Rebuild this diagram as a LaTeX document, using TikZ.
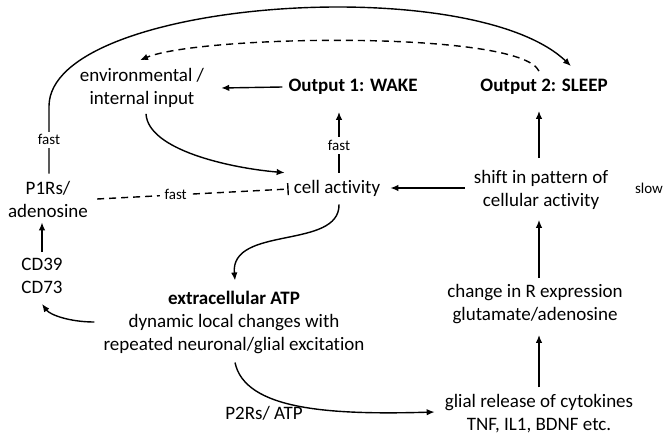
\documentclass[tikz,border=0pt]{standalone}
\usepackage{fontspec}
\setmainfont{Carlito}[Ligatures=NoCommon]
\usetikzlibrary{arrows.meta}
\begin{document}
\begin{tikzpicture}[x=1pt,y=-1pt,
 txt/.style={font=\fontsize{19}{23}\selectfont, align=center, inner sep=0pt},
 btxt/.style={font=\fontsize{19}{23}\selectfont\bfseries, align=center, inner sep=0pt},
 small/.style={font=\fontsize{15}{18}\selectfont, inner sep=1.5pt, fill=white},
 arr/.style={line width=1.4pt, -{Latex[length=8pt,width=6.5pt]}},
 ln/.style={line width=1.4pt},
 dsh/.style={dash pattern=on 7pt off 5pt},
]
\useasboundingbox (0,0) rectangle (663,442);

\node[txt] (env) at (142,88) {environmental /\\internal input};
\node[btxt] (wake) at (353,87) {Output 1: WAKE};
\node[btxt] (sleep) at (544,87) {Output 2: SLEEP};
\node[txt] (cell) at (337,188) {cell activity};
\node[txt] (p1r) at (48,199) {P1Rs/\\adenosine};
\node[txt] (cd) at (42,276) {CD39\\CD73};
\node[txt] (atp) at (234,322) {\textbf{extracellular ATP}\\dynamic local changes with\\repeated neuronal/glial excitation};
\node[txt] (shift) at (541,190) {shift in pattern of\\cellular activity};
\node[txt] (chg) at (535,304) {change in R expression\\glutamate/adenosine};
\node[txt] (glial) at (539,414) {glial release of cytokines\\TNF, IL1, BDNF etc.};
\node[txt] (p2r) at (264,413) {P2Rs/ ATP};
\node[small,fill=none] (slow) at (649,188) {slow};

% wake -> env
\draw[arr] ([shift={(-6,0)}]wake.west) -- ([shift={(17,0)}]env.east);
% cell -> wake (fast)
\draw[arr] ([shift={(2,-7)}]cell.north) -- node[small,pos=0.45,inner ysep=3pt]{fast} ([shift={(-14,17)}]wake.south);
% p1r -> sleep (fast, top arc)
\coordinate (bend) at (49,106);
\draw[arr] ([shift={(1,-7)}]p1r.north) -- node[small,inner ysep=3pt]{fast} (bend)
  .. controls (50,0) and (470,-30) .. ([shift={(27,-13)}]sleep.north);
% sleep -> env dashed
\draw[arr,dsh] ([shift={(-5,-8)}]sleep.north) .. controls (520,30) and (200,35) .. ([shift={(-2,-8)}]env.north);
% env -> cell
\draw[arr] ([shift={(4,6)}]env.south) .. controls (148,150) and (230,168) .. ([shift={(-9,-7)}]cell.north west);
% p1r -| cell dashed
\draw[ln,dsh,-{Bar[width=12pt]}] ([shift={(9,0)}]p1r.east) -- node[small,pos=0.41,inner xsep=5pt]{fast} ([shift={(-5,1)}]cell.west);
% shift -> cell
\draw[arr] ([shift={(-9,-2)}]shift.west) -- ([shift={(10,0)}]cell.east);
% shift -> sleep
\draw[arr] ([shift={(-2,-12)}]shift.north) -- ([shift={(-5,16)}]sleep.south);
% chg -> shift
\draw[arr] ([shift={(4,-6)}]chg.north) -- ([shift={(-2,10)}]shift.south);
% glial -> chg
\draw[arr] ([shift={(0,-7)}]glial.north) -- ([shift={(4,11)}]chg.south);
% cd -> p1r
\draw[arr] ([shift={(0,-6)}]cd.north) -- ([shift={(-6,5)}]p1r.south);
% cell -> atp
\draw[arr] ([shift={(2,8)}]cell.south) .. controls (340,250) and (230,225) .. ([shift={(1,-10)}]atp.north);
% atp -> cd
\draw[arr] ([shift={(-9,0)}]atp.west) .. controls (70,322) and (50,315) .. ([shift={(0,10)}]cd.south);
% atp -> glial
\draw[arr] ([shift={(1,9)}]atp.south) .. controls (245,410) and (330,415) .. ([shift={(-10,-2)}]glial.west);
\end{tikzpicture}
\end{document}
